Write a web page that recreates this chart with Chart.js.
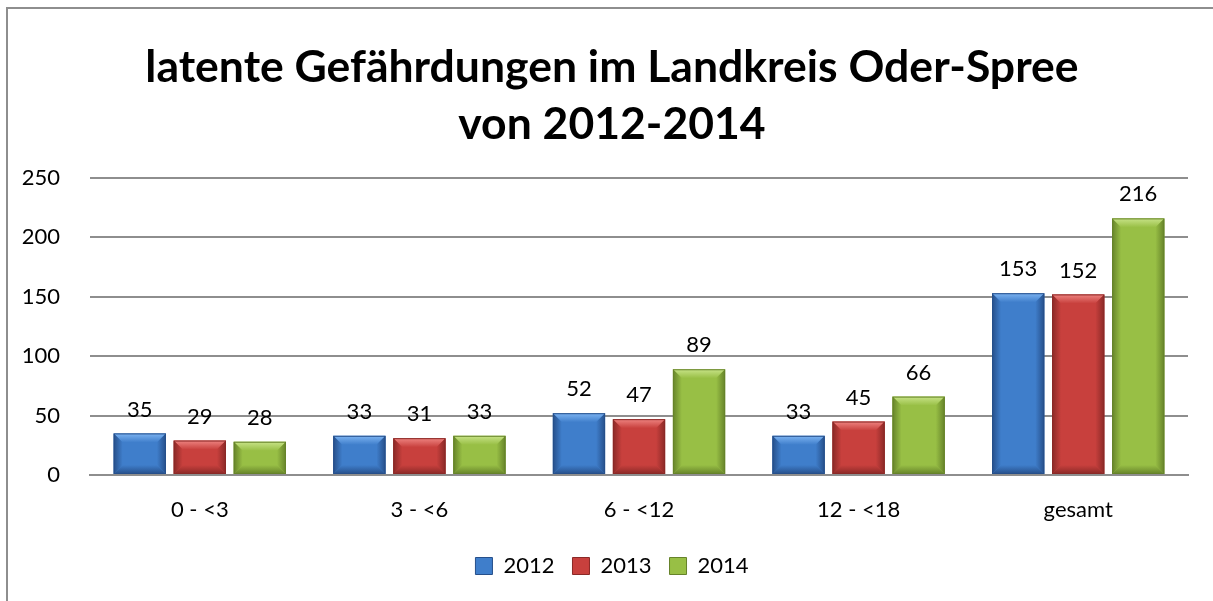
<!DOCTYPE html>
<html lang="de">
<head>
<meta charset="utf-8">
<title>latente Gefährdungen im Landkreis Oder-Spree</title>
<script src="https://cdn.jsdelivr.net/npm/chart.js@4.4.1/dist/chart.umd.min.js"></script>
<style>
  html, body { margin: 0; padding: 0; background: #fff; overflow: hidden; }
  #wrap { position: relative; width: 1213px; height: 601px; }
  #frame {
    position: absolute; left: 6px; top: 7px; width: 1212px; height: 700px;
    border: 2px solid #8e8e8e; pointer-events: none; box-sizing: border-box;
  }
  canvas { position: absolute; left: 0; top: 0; }
</style>
</head>
<body>
<div id="wrap">
  <canvas id="chart" width="1213" height="601"></canvas>
  <div id="frame"></div>
</div>
<script>
// Data
const categories = ["0 - <3", "3 - <6", "6 - <12", "12 - <18", "gesamt"];
const years = ["2012", "2013", "2014"];
const values2012 = [35, 33, 52, 33, 153];
const values2013 = [29, 31, 47, 45, 152];
const values2014 = [28, 33, 89, 66, 216];
const yTicks = [0, 50, 100, 150, 200, 250];
const titleLines = ["latente Gefährdungen im Landkreis Oder-Spree", "von 2012-2014"];

const FONT = "Lato, 'Open Sans', sans-serif";

// base / light / dark tones for the bevelled bars
const palette = [
  { base: "#3f7ecb", light: "#7db4f2", dark: "#264f8a" },
  { base: "#c8403d", light: "#ee8481", dark: "#8a2927" },
  { base: "#98bf45", light: "#c8e388", dark: "#66832a" },
];

// centre of the outer frame (it runs a bit past the right edge)
const frameCenter = () => {
  const frame = document.getElementById("frame");
  return frame.offsetLeft + frame.offsetWidth / 2;
};

// Title centred on the frame
const frameTitle = {
  id: "frameTitle",
  afterLayout(chart) {
    // move the legend so it is centred on the frame too
    const lg = chart.legend;
    const shift = frameCenter() - (lg.left + lg.right) / 2;
    lg.left += shift;
    lg.right += shift;
  },
  afterDraw(chart) {
    const ctx = chart.ctx;
    ctx.save();
    ctx.font = "bold 44.5px " + FONT;
    ctx.fillStyle = "#000";
    ctx.textAlign = "center";
    ctx.textBaseline = "middle";
    titleLines.forEach((line, i) => {
      ctx.fillText(line, frameCenter(), 68 + i * 57);
    });
    ctx.restore();
  },
};

// Draws the bevel look on every bar
const bevelPlugin = {
  id: "bevel",
  afterDatasetsDraw(chart) {
    const ctx = chart.ctx;
    chart.data.datasets.forEach((ds, i) => {
      const meta = chart.getDatasetMeta(i);
      const col = palette[i];
      meta.data.forEach((bar) => {
        const w = bar.width;
        const x0 = bar.x - w / 2;
        const x1 = bar.x + w / 2;
        const y0 = bar.y;
        const y1 = bar.base;
        const b = Math.min(9, (y1 - y0) / 2, w / 2);
        ctx.save();
        // body
        ctx.fillStyle = col.base;
        ctx.fillRect(x0, y0, w, y1 - y0);
        // top face
        let g = ctx.createLinearGradient(0, y0, 0, y0 + b);
        g.addColorStop(0, col.light);
        g.addColorStop(1, col.base);
        ctx.fillStyle = g;
        ctx.beginPath();
        ctx.moveTo(x0, y0);
        ctx.lineTo(x1, y0);
        ctx.lineTo(x1 - b, y0 + b);
        ctx.lineTo(x0 + b, y0 + b);
        ctx.closePath();
        ctx.fill();
        // left side
        g = ctx.createLinearGradient(x0, 0, x0 + b, 0);
        g.addColorStop(0, col.dark);
        g.addColorStop(1, col.base);
        ctx.fillStyle = g;
        ctx.beginPath();
        ctx.moveTo(x0, y0);
        ctx.lineTo(x0 + b, y0 + b);
        ctx.lineTo(x0 + b, y1 - b);
        ctx.lineTo(x0, y1);
        ctx.closePath();
        ctx.fill();
        // right side
        g = ctx.createLinearGradient(x1, 0, x1 - b, 0);
        g.addColorStop(0, col.dark);
        g.addColorStop(1, col.base);
        ctx.fillStyle = g;
        ctx.beginPath();
        ctx.moveTo(x1, y0);
        ctx.lineTo(x1 - b, y0 + b);
        ctx.lineTo(x1 - b, y1 - b);
        ctx.lineTo(x1, y1);
        ctx.closePath();
        ctx.fill();
        // bottom
        g = ctx.createLinearGradient(0, y1, 0, y1 - b);
        g.addColorStop(0, col.dark);
        g.addColorStop(1, col.base);
        ctx.fillStyle = g;
        ctx.beginPath();
        ctx.moveTo(x0, y1);
        ctx.lineTo(x0 + b, y1 - b);
        ctx.lineTo(x1 - b, y1 - b);
        ctx.lineTo(x1, y1);
        ctx.closePath();
        ctx.fill();
        ctx.strokeStyle = col.dark;
        ctx.lineWidth = 1;
        ctx.strokeRect(x0 + 0.5, y0 + 0.5, w - 1, y1 - y0 - 1);
        ctx.restore();
      });
    });
  },
};

// Value labels above the bars
const valueLabels = {
  id: "valueLabels",
  afterDatasetsDraw(chart) {
    const ctx = chart.ctx;
    ctx.save();
    ctx.font = "22px " + FONT;
    ctx.fillStyle = "#000";
    ctx.textAlign = "center";
    ctx.textBaseline = "bottom";
    chart.data.datasets.forEach((ds, i) => {
      chart.getDatasetMeta(i).data.forEach((bar, j) => {
        ctx.fillText(ds.data[j], bar.x, bar.y - 13);
      });
    });
    ctx.restore();
  },
};

const seriesValues = [values2012, values2013, values2014];

new Chart(document.getElementById("chart"), {
  type: "bar",
  data: {
    labels: categories,
    datasets: years.map((year, i) => ({
      label: year,
      data: seriesValues[i],
      backgroundColor: "rgba(0,0,0,0)",
      borderWidth: 0,
      categoryPercentage: 0.82,
      barPercentage: 0.87,
    })),
  },
  options: {
    responsive: false,
    animation: false,
    events: [],
    layout: { padding: { left: 0, right: 25, top: 178, bottom: 14 } },
    scales: {
      x: {
        grid: { display: false, drawTicks: false },
        border: { color: "#8e8e8e", width: 2 },
        ticks: { color: "#000", font: { family: FONT, size: 22 }, padding: 22 },
        afterFit: (scale) => {
          scale.height = 62;
        },
      },
      y: {
        min: 0,
        max: 250,
        afterBuildTicks: (scale) => {
          scale.ticks = yTicks.map((v) => ({ value: v }));
        },
        afterFit: (scale) => {
          scale.width = 90;
        },
        grid: { color: "#8e8e8e", lineWidth: 2, drawTicks: false },
        border: { display: false },
        ticks: { color: "#000", font: { family: FONT, size: 22 }, padding: 30 },
      },
    },
    plugins: {
      title: { display: false },
      legend: {
        position: "bottom",
        labels: {
          color: "#000",
          font: { family: FONT, size: 22 },
          boxWidth: 17,
          boxHeight: 17,
          padding: 18,
          generateLabels: (chart) =>
            years.map((year, i) => ({
              text: year,
              fillStyle: palette[i].base,
              strokeStyle: palette[i].dark,
              lineWidth: 1,
              datasetIndex: i,
            })),
        },
      },
      tooltip: { enabled: false },
    },
  },
  plugins: [bevelPlugin, valueLabels, frameTitle],
});
</script>
</body>
</html>
